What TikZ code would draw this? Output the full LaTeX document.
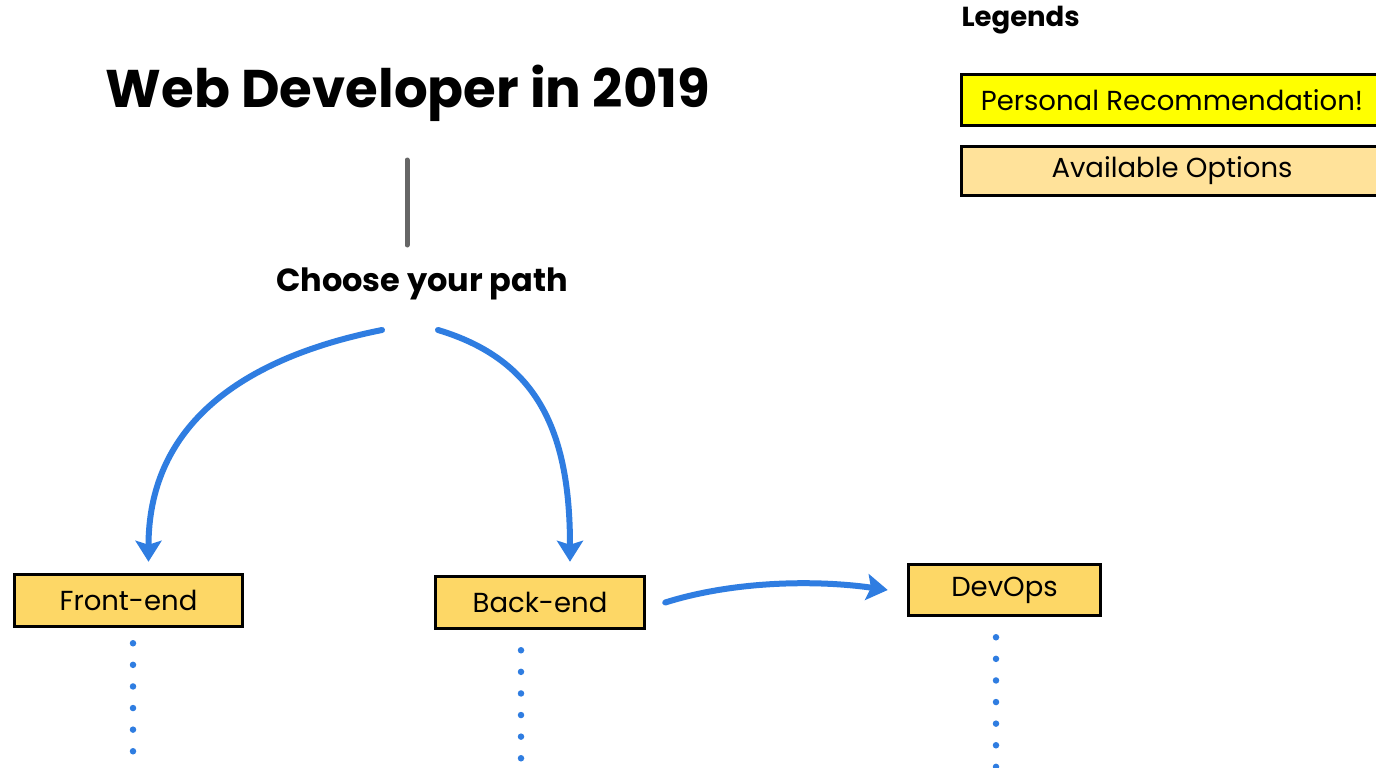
\documentclass[tikz,border=0pt]{standalone}
\usepackage{fontspec}
\setmainfont{Poppins}
\usetikzlibrary{arrows.meta}
\definecolor{recyellow}{HTML}{FFFF00}
\definecolor{optorange}{HTML}{FDD766}
\definecolor{legorange}{HTML}{FFE29A}
\definecolor{pathblue}{HTML}{2F7DE1}
\definecolor{stemgray}{HTML}{666666}
\tikzset{
  optbox/.style={draw=black, line width=3.5pt, fill=optorange, inner sep=0pt,
    font=\fontsize{27.5}{30}\selectfont},
  pathline/.style={draw=pathblue, line width=6pt, line cap=round,
    -{Stealth[length=21pt,width=26pt,inset=4pt]}},
  dotline/.style={draw=pathblue, line width=6.5pt, line cap=round,
    dash pattern=on 0pt off 21.6pt},
}
\begin{document}
\begin{tikzpicture}[x=1pt,y=-1pt]
\clip (0,0) rectangle (1376,768);
\fill[white] (0,0) rectangle (1376,768);

% title and start
\node[font=\fontsize{53}{58}\selectfont\bfseries] (title) at (408,93) {Web Developer in 2019};
\node[font=\fontsize{32}{36}\selectfont\bfseries] (choose) at (422,284) {Choose your path};
\draw[stemgray, line width=5pt, line cap=round] (title) ++(-1,67) -- ++(0,85);

% the three paths
\node[optbox, minimum width=228pt, minimum height=52pt] (front) at (128.5,600.5) {Front-end};
\node[optbox, minimum width=209pt, minimum height=52pt] (back) at (540,602.5) {Back-end};
\node[optbox, minimum width=192pt, minimum height=51pt] (devops) at (1004.5,590) {DevOps};

\draw[pathline] (choose) ++(-40,46) .. controls +(-150,30) and +(0,-130) .. ([shift={(20,-11)}]front.north);
\draw[pathline] (choose) ++(16,46) .. controls +(100,30) and +(0,-130) .. ([shift={(30,-13)}]back.north);
\draw[pathline] ([shift={(19,0)}]back.east) .. controls +(70,-22) and +(-70,-10) .. ([shift={(-19,0)}]devops.west);

% to be continued
\coordinate (frontEnd) at (133,756);
\coordinate (backEnd) at (521,760);
\coordinate (devopsEnd) at (996,770);
\draw[dotline] ([shift={(4.5,15)}]front.south) -- (frontEnd);
\draw[dotline] ([shift={(-19,20)}]back.south) -- (backEnd);
\draw[dotline] ([shift={(-8.5,20)}]devops.south) -- (devopsEnd);

% legends
\node[anchor=west, font=\fontsize{27.5}{30}\selectfont\bfseries] (legends) at (958,20) {Legends};
\node[optbox, fill=recyellow, minimum width=421pt, minimum height=51pt] (recbox) at (1172,100) {Personal Recommendation!};
\node[optbox, fill=legorange, minimum width=421pt, minimum height=49pt] (optionbox) at (1172,171) {Available Options};
\end{tikzpicture}
\end{document}
